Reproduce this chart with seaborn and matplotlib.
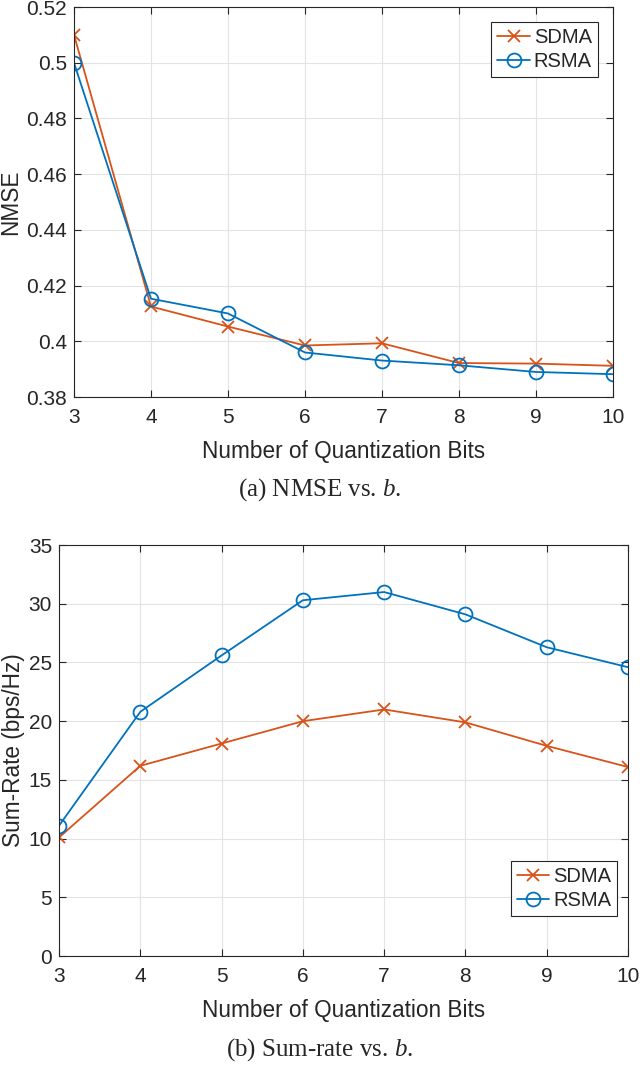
"""NMSE and sum-rate versus number of quantization bits."""

import matplotlib

matplotlib.use("Agg")
import matplotlib.pyplot as plt
import seaborn as sns

bits = [3, 4, 5, 6, 7, 8, 9, 10]
nmse_sdma = [0.510, 0.4125, 0.4053, 0.3985, 0.3993, 0.3922, 0.3920, 0.3912]
nmse_rsma = [0.500, 0.4153, 0.4100, 0.3960, 0.3931, 0.3914, 0.3890, 0.3882]
rate_sdma = [10.1, 16.2, 18.1, 20.0, 21.0, 19.9, 17.9, 16.1]
rate_rsma = [11.1, 20.8, 25.6, 30.3, 31.0, 29.1, 26.3, 24.6]

SDMA_COLOR = "#D95319"
RSMA_COLOR = "#0072BD"
TEXT_COLOR = "#262626"

sns.set_style("whitegrid")
plt.rcParams["font.family"] = ["Liberation Sans", "DejaVu Sans"]
plt.rcParams["mathtext.fontset"] = "custom"
plt.rcParams["mathtext.it"] = "Liberation Serif:italic"


def draw_panel(ax, sdma, rsma, ylabel, yticks, ylim, legend_loc, legend_anchor):
    sns.lineplot(x=bits, y=sdma, color=SDMA_COLOR, marker="x", markersize=9,
                 markeredgecolor=SDMA_COLOR, markeredgewidth=1.3,
                 linewidth=1.3, label="SDMA", ax=ax)
    sns.lineplot(x=bits, y=rsma, color=RSMA_COLOR, marker="o", markersize=10,
                 markerfacecolor="none", markeredgecolor=RSMA_COLOR,
                 markeredgewidth=1.3, linewidth=1.3, label="RSMA", ax=ax)
    ax.set_xlim(3, 10)
    ax.set_ylim(*ylim)
    ax.set_xticks(bits)
    ax.set_yticks(yticks)
    ax.set_xlabel("Number of Quantization Bits", fontsize=16.3, color=TEXT_COLOR,
                  labelpad=9)
    ax.set_ylabel(ylabel, fontsize=16.3, color=TEXT_COLOR, labelpad=3)
    ax.tick_params(labelsize=15, colors=TEXT_COLOR, direction="in", length=5,
                   top=True, right=True, bottom=True, left=True)
    ax.tick_params(axis="x", pad=8)
    ax.tick_params(axis="y", pad=5)
    ax.grid(True, color="#e3e3e3", linewidth=0.8)
    for spine in ax.spines.values():
        spine.set_color(TEXT_COLOR)
        spine.set_linewidth(0.8)
    legend = ax.legend(loc=legend_loc, bbox_to_anchor=legend_anchor,
                       fontsize=14.5, frameon=True, fancybox=False, handlelength=1.6,
                       handletextpad=0.2, borderpad=0.3, labelspacing=0.25,
                       borderaxespad=0)
    legend.get_frame().set_edgecolor(TEXT_COLOR)
    legend.get_frame().set_linewidth(0.8)
    legend.get_frame().set_alpha(1)


fig = plt.figure(figsize=(6.4, 10.65), dpi=100)

ax_top = fig.add_axes([0.1156, 0.6272, 0.842, 0.3662])
draw_panel(ax_top, nmse_sdma, nmse_rsma, "NMSE",
           [0.38, 0.40, 0.42, 0.44, 0.46, 0.48, 0.50, 0.52], (0.38, 0.52),
           "upper right", (0.972, 0.962))
ax_top.set_yticklabels(["0.38", "0.4", "0.42", "0.44", "0.46", "0.48", "0.5", "0.52"])

ax_bottom = fig.add_axes([0.0922, 0.1023, 0.889, 0.3859])
draw_panel(ax_bottom, rate_sdma, rate_rsma, "Sum-Rate (bps/Hz)",
           [0, 5, 10, 15, 20, 25, 30, 35], (0, 35),
           "lower right", (0.981, 0.097))

fig.text(0.5, 1 - 490 / 1065, "(a) NMSE vs. $b$.", ha="center", va="center",
         fontsize=18, family=["Liberation Serif", "DejaVu Serif"])
fig.text(0.5, 1 - 1050 / 1065, "(b) Sum-rate vs. $b$.", ha="center", va="center",
         fontsize=18, family=["Liberation Serif", "DejaVu Serif"])

fig.savefig("out.png", dpi=100)
plt.close(fig)
